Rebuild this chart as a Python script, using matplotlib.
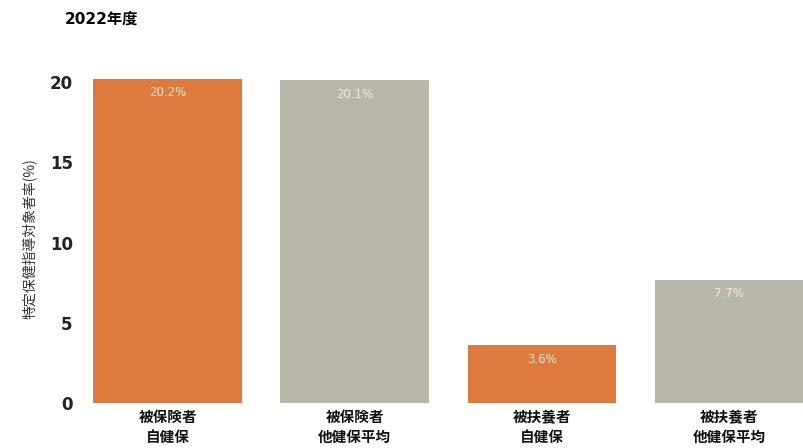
import numpy as np
import matplotlib.pyplot as plt

plt.rcParams['font.family'] = ['Noto Sans CJK JP', 'DejaVu Sans']

categories = ['被保険者\n自健保', '被保険者\n他健保平均', '被扶養者\n自健保', '被扶養者\n他健保平均']
values = [20.2, 20.1, 3.6, 7.7]
value_labels = ['20.2%', '20.1%', '3.6%', '7.7%']
colors = ['#DF7A3E', '#B9B6AA', '#DF7A3E', '#B9B6AA']

fig = plt.figure(figsize=(8.04, 4.48), dpi=100)
ax = fig.add_axes([0.106, 0.100, 0.894, 0.735])

x = np.arange(len(categories))
bars = ax.bar(x, values, width=0.795, color=colors)

for xi, v, lab in zip(x, values, value_labels):
    ax.text(xi, v - 0.45, lab, ha='center', va='top', fontsize=8.5,
            color='#F6EADF', family='DejaVu Sans')

ax.set_xlim(-0.44, 3.4)
ax.set_ylim(0, 20.5)
ax.set_yticks([0, 5, 10, 15, 20])
ax.set_yticklabels(['0', '5', '10', '15', '20'], family='DejaVu Sans',
                   fontsize=12, fontweight='bold')
ax.set_xticks(x)
ax.set_xticklabels(categories, fontsize=10.5, fontweight='bold', linespacing=1.35)
ax.tick_params(axis='y', length=0, pad=9, labelcolor='#222222')
ax.tick_params(axis='x', length=0, pad=4, labelcolor='#111111')
for s in ax.spines.values():
    s.set_visible(False)

ax.set_ylabel('特定保健指導対象者率(%)', fontsize=10, color='#333333', labelpad=9)
fig.text(0.081, 0.957, '2022年度', fontsize=11, fontweight='bold', va='center',
         family=['DejaVu Sans', 'Noto Sans CJK JP'])

fig.savefig('out.png', dpi=100)
